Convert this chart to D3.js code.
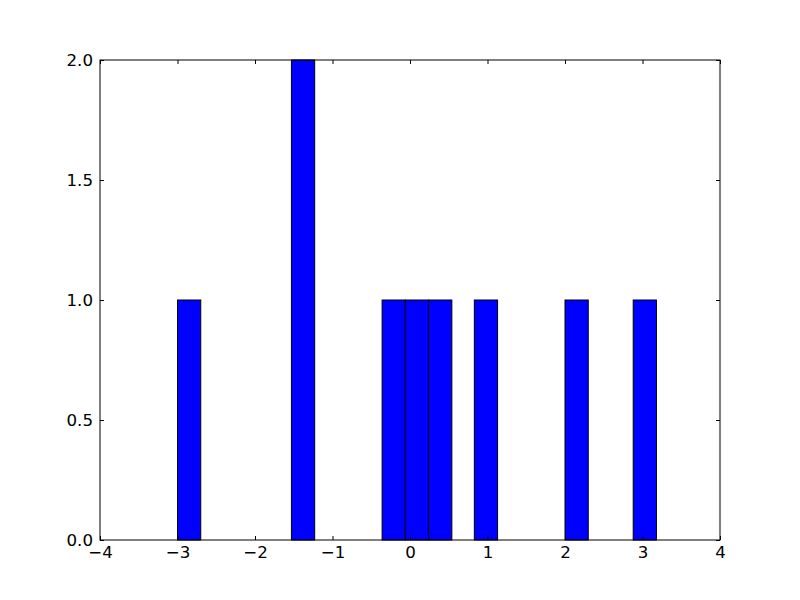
<!DOCTYPE html>
<html><head><meta charset="utf-8">
<script src="https://cdn.jsdelivr.net/npm/d3@7"></script>
<style>body{margin:0;background:#fff}svg{display:block}</style>
</head><body>
<script>
const binLefts = [-3.0, -1.53, -0.36, -0.06, 0.24, 0.83, 2.0, 2.88];
const binWidth = 0.3;
const counts = [1, 2, 1, 1, 1, 1, 1, 1];
const xTicks = [-4, -3, -2, -1, 0, 1, 2, 3, 4];
const yTicks = [0, 0.5, 1.0, 1.5, 2.0];

const W = 800, H = 600;
const m = {l: 100, r: 80, t: 60, b: 60};
const svg = d3.select("body").append("svg").attr("width", W).attr("height", H);
const x = d3.scaleLinear().domain([-4, 4]).range([m.l, W - m.r]);
const y = d3.scaleLinear().domain([0, 2]).range([H - m.b, m.t]);
const fmtMinus = s => s.replace("-", "\u2212");

svg.append("g").selectAll("rect").data(binLefts).join("rect")
  .attr("x", (d) => x(d))
  .attr("width", (d) => x(d + binWidth) - x(d))
  .attr("y", (d, i) => y(counts[i]))
  .attr("height", (d, i) => y(0) - y(counts[i]))
  .attr("fill", "#0000ff").attr("stroke", "#000").attr("stroke-width", 1);

const font = "DejaVu Sans";
const axB = d3.axisBottom(x).tickValues(xTicks).tickSize(-4).tickPadding(6).tickFormat(d => fmtMinus(d3.format("d")(d)));
const axT = d3.axisTop(x).tickValues(xTicks).tickSize(-4).tickFormat("");
const axL = d3.axisLeft(y).tickValues(yTicks).tickSize(-4).tickPadding(7).tickFormat(d3.format(".1f"));
const axR = d3.axisRight(y).tickValues(yTicks).tickSize(-4).tickFormat("");

function style(g){
  g.select(".domain").remove();
  g.selectAll("line").attr("stroke", "#000");
  g.selectAll("text").attr("font-family", font).attr("font-size", 16.67).attr("fill", "#000");
}
svg.append("g").attr("transform", `translate(0,${H - m.b})`).call(axB).call(style);
svg.append("g").attr("transform", `translate(0,${m.t})`).call(axT).call(style);
svg.append("g").attr("transform", `translate(${m.l},0)`).call(axL).call(style);
svg.append("g").attr("transform", `translate(${W - m.r},0)`).call(axR).call(style);

svg.append("rect").attr("x", m.l).attr("y", m.t)
  .attr("width", W - m.l - m.r).attr("height", H - m.t - m.b)
  .attr("fill", "none").attr("stroke", "#000").attr("stroke-width", 1);
</script>
</body></html>
